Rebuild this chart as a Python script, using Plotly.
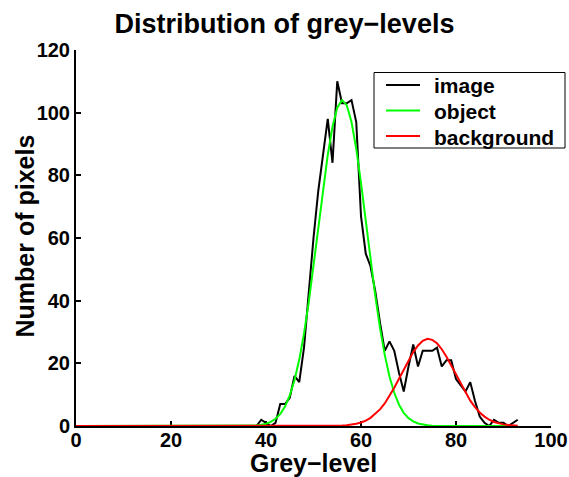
import plotly.graph_objects as go

# grey levels 0..93
grey = list(range(0, 94))

# histogram of the image (number of pixels per grey-level)
image_counts = [0]*38 + [
    0, 2, 1, 0, 1, 7, 7, 9, 16, 14,      # 38-47
    25, 43, 60, 75, 87, 98, 84, 110, 103, 103,  # 48-57
    104, 97, 67, 55, 51, 43, 33, 24, 27, 24,    # 58-67
    17, 11, 19, 26, 19, 24, 24, 24, 25, 19,     # 68-77
    21, 21, 15, 13, 11, 14, 8, 3, 1, 0,         # 78-87
    2, 1, 1, 0, 1, 2,                           # 88-93
]

# fitted "object" curve
object_fit = [0]*36 + [
    0.04, 0.09, 0.19, 0.38,                     # 36-39
    0.71, 1.3, 2.3, 3.8, 6.2, 9.8, 14.6, 21.2, 29.5, 39.5,   # 40-49
    50.9, 63.1, 75.3, 86.5, 95.5, 101.6, 104.0, 102.4, 97.0, 88.5,  # 50-59
    77.6, 65.6, 53.3, 41.6, 31.3, 22.7, 15.8, 10.6, 6.8, 4.2,  # 60-69
    2.5, 1.5, 0.81, 0.43, 0.22, 0.1, 0.05, 0, 0, 0,            # 70-79
    0, 0, 0, 0, 0, 0, 0, 0, 0, 0,                              # 80-89
    0, 0, 0, 0,                                                # 90-93
]

# fitted "background" curve
background_fit = [0]*54 + [
    0.04, 0.07, 0.14, 0.25, 0.42, 0.7,                         # 54-59
    1.1, 1.7, 2.6, 3.8, 5.3, 7.2, 9.5, 12.2, 15.1, 18.1,       # 60-69
    21.0, 23.6, 25.7, 27.2, 27.8, 27.5, 26.4, 24.5, 22.1, 19.3, # 70-79
    16.3, 13.3, 10.5, 8.1, 6.0, 4.3, 3.0, 2.0, 1.3, 0.85,      # 80-89
    0.52, 0.31, 0.18, 0.1,                                     # 90-93
]

series_names = ["image", "object", "background"]
series_colors = ["black", "#00ff00", "#ff0000"]

x_ticks = [0, 20, 40, 60, 80, 100]
y_ticks = [0, 20, 40, 60, 80, 100, 120]

FONT = "Liberation Sans, Arial, Helvetica, sans-serif"

fig = go.Figure()
for name, ys, col in zip(series_names, [image_counts, object_fit, background_fit], series_colors):
    fig.add_trace(go.Scatter(x=grey, y=ys, mode="lines", name=name,
                             line=dict(color=col, width=2), showlegend=False))

# plot area: x 76..551 px, y 50..426 px
PL, PR, PT, PB = 76, 551, 50, 426
def px_x(p):
    return (p - PL) / (PR - PL)
def px_y(p):
    return (PB - p) / (PB - PT)

shapes = []
annotations = []
# legend box (MATLAB style)
shapes.append(dict(type="rect", xref="paper", yref="paper",
                   x0=px_x(374), x1=px_x(565), y0=px_y(148), y1=px_y(72.5),
                   line=dict(color="black", width=1), fillcolor="white", layer="above"))
rows = [85, 110.5, 136]
for name, col, ry in zip(series_names, series_colors, rows):
    shapes.append(dict(type="line", xref="paper", yref="paper",
                       x0=px_x(386), x1=px_x(420), y0=px_y(ry), y1=px_y(ry),
                       line=dict(color=col, width=2), layer="above"))
    annotations.append(dict(text=f"<b>{name}</b>", xref="paper", yref="paper",
                            x=px_x(432), y=px_y(ry + 1), xanchor="left", yanchor="middle",
                            showarrow=False, font=dict(size=21, family=FONT, color="black")))

# axis titles
annotations.append(dict(text="<b>Grey\u2212level</b>", xref="paper", yref="paper",
                        x=px_x(313), y=px_y(463), xanchor="center", yanchor="middle",
                        showarrow=False, font=dict(size=25, family=FONT, color="black")))
annotations.append(dict(text="<b>Number of pixels</b>", xref="paper", yref="paper",
                        x=px_x(25), y=px_y(236.5), xanchor="center", yanchor="middle",
                        textangle=-90, showarrow=False,
                        font=dict(size=25, family=FONT, color="black")))

fig.update_layout(
    width=569, height=477,
    margin=dict(l=PL, r=569 - PR, t=PT, b=477 - PB, autoexpand=False),
    paper_bgcolor="white", plot_bgcolor="white",
    font=dict(family=FONT, color="black", size=20),
    title=dict(text="<b>Distribution of grey\u2212levels</b>", x=0.5, xanchor="center",
               xref="container", yref="container", y=1 - 14/477, yanchor="top",
               font=dict(size=27, family=FONT, color="black")),
    showlegend=False,
    shapes=shapes,
    annotations=annotations,
)
fig.update_xaxes(
    range=[0, 100], tickvals=x_ticks, ticktext=[f"<b>{v}</b>" for v in x_ticks],
    ticks="inside", ticklen=5, tickwidth=2, tickcolor="black",
    showline=True, linecolor="black", linewidth=2, showgrid=False, zeroline=False,
    layer="below traces", automargin=False, ticklabelstandoff=-5,
    tickfont=dict(size=20, family=FONT, color="black"),
)
fig.update_yaxes(
    range=[0, 120], tickvals=y_ticks, ticktext=[f"<b>{v}</b>" for v in y_ticks],
    ticks="inside", ticklen=5, tickwidth=2, tickcolor="black",
    showline=True, linecolor="black", linewidth=2, showgrid=False, zeroline=False,
    layer="below traces", automargin=False,
    tickfont=dict(size=20, family=FONT, color="black"),
)

fig.write_html("out.html")
